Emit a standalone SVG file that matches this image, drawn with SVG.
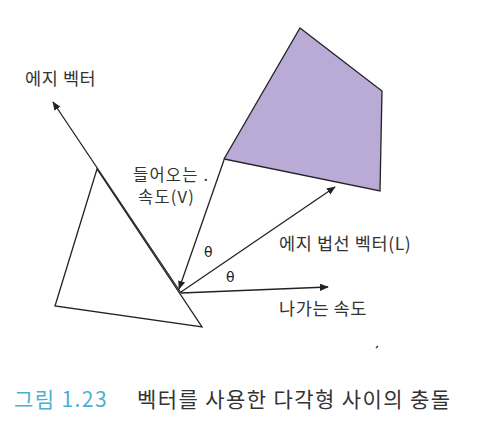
<svg xmlns="http://www.w3.org/2000/svg" width="483" height="432" viewBox="0 0 483 432">
<style>
.ln{stroke:#222;stroke-width:1.3;fill:none}
.sh{stroke:#222;stroke-width:1.3}
.t{font-family:"Noto Sans CJK KR","Noto Sans",sans-serif;font-size:17.5px;letter-spacing:0.6px;fill:#333}
.t2{font-family:"Noto Sans CJK KR","Noto Sans",sans-serif;font-size:16.5px;letter-spacing:1.2px;fill:#333}
.th{font-family:"DejaVu Sans",sans-serif;font-size:14px;fill:#222}
.cap{font-family:"Noto Sans CJK KR","Noto Sans",sans-serif;font-size:21px;letter-spacing:1.4px;fill:#333}
</style>
<defs>
<marker id="ah" viewBox="0 0 10 10" refX="9" refY="5" markerWidth="9" markerHeight="9" markerUnits="userSpaceOnUse" orient="auto">
<path d="M0,1 L10,5 L0,9 Z" fill="#222"/>
</marker>
</defs>
<rect width="483" height="432" fill="#fff"/>
<g id="quad"><polygon class="sh" points="300,28 382,91 380,191 224,159" fill="#b9aad6"/></g>
<g id="triangle"><polygon class="sh" points="97,169 202,327 55,306" fill="#fff"/></g>
<g id="connectors">
<line class="ln" x1="181" y1="293" x2="53" y2="102" marker-end="url(#ah)"/>
<line class="ln" x1="224" y1="160" x2="179" y2="289" marker-end="url(#ah)"/>
<line class="ln" x1="181" y1="292" x2="335" y2="187" marker-end="url(#ah)"/>
<line class="ln" x1="181" y1="293" x2="328" y2="287" marker-end="url(#ah)"/>
</g>
<g id="labels">
<text class="t" x="25" y="85">에지 벡터</text>
<text class="t2" x="133" y="181">들어오는 .</text>
<text class="t2" x="138" y="203">속도(V)</text>
<text class="th" x="204" y="257">θ</text>
<text class="th" x="226" y="282">θ</text>
<text class="t" x="279" y="250">에지 법선 벡터(L)</text>
<text class="t" x="279" y="315">나가는 속도</text>
</g>
<line x1="376" y1="348" x2="378" y2="346" stroke="#333" stroke-width="1.5"/>
<g id="caption">
<text class="cap" x="14" y="407" style="fill:#4bb0d0">그림 1.23</text>
<text class="cap" x="137" y="407">벡터를 사용한 다각형 사이의 충돌</text>
</g>
</svg>
